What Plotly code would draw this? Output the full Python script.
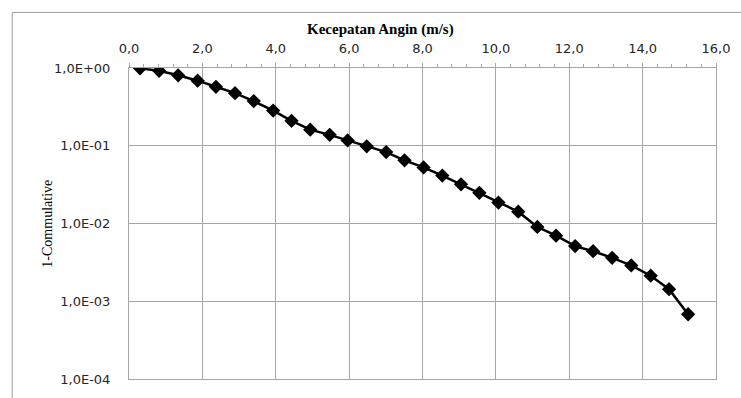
import plotly.graph_objects as go

# Wind speed (m/s) and 1 - cumulative probability
kecepatan = [0.30, 0.82, 1.34, 1.87, 2.37, 2.89, 3.40, 3.93, 4.43, 4.94,
             5.47, 5.96, 6.48, 7.01, 7.51, 8.03, 8.54, 9.05, 9.55, 10.07,
             10.61, 11.13, 11.64, 12.16, 12.65, 13.17, 13.69, 14.22, 14.72, 15.24]
satu_min_kumulatif = [0.99, 0.92, 0.805, 0.687, 0.573, 0.475, 0.375, 0.283, 0.209, 0.161,
                      0.138, 0.117, 0.0984, 0.0828, 0.065, 0.0526, 0.0414, 0.0319, 0.0248, 0.0186,
                      0.0142, 0.00904, 0.00697, 0.00512, 0.00440, 0.00362, 0.00289, 0.00213, 0.00143, 0.00068]

x_tickvals = [0, 2, 4, 6, 8, 10, 12, 14, 16]
x_ticktext = ["0,0", "2,0", "4,0", "6,0", "8,0", "10,0", "12,0", "14,0", "16,0"]
y_tickvals = [1, 0.1, 0.01, 0.001, 0.0001]
y_ticktext = ["1,0E+00", "1,0E-01", "1,0E-02", "1,0E-03", "1,0E-04"]

grid = "#a6a6a6"

fig = go.Figure()
fig.add_trace(go.Scatter(
    x=kecepatan, y=satu_min_kumulatif, mode="lines+markers",
    line=dict(color="black", width=2.5),
    marker=dict(symbol="diamond", size=11, color="black"),
    showlegend=False,
))

fig.update_layout(
    width=741, height=398,
    margin=dict(l=129, r=24, t=68, b=11),
    paper_bgcolor="white", plot_bgcolor="white",
    font=dict(family="DejaVu Sans", size=13, color="#262626"),
)
fig.update_xaxes(
    side="top", range=[0, 16], tickmode="array", tickvals=x_tickvals, ticktext=x_ticktext,
    showgrid=True, gridcolor=grid, gridwidth=1,
    showline=True, linecolor=grid, linewidth=1, mirror=True,
    ticks="outside", ticklen=4, tickcolor=grid,
    minor=dict(dtick=0.4, ticks="outside", ticklen=3, tickcolor=grid, showgrid=False),
    tickfont_family="DejaVu Sans", tickfont_size=13, tickfont_color="#262626",
    ticklabelstandoff=5, zeroline=False,
)
fig.update_yaxes(
    type="log", range=[-4, 0], tickmode="array", tickvals=y_tickvals, ticktext=y_ticktext,
    showgrid=True, gridcolor=grid, gridwidth=1,
    showline=True, linecolor=grid, linewidth=1, mirror=True,
    ticks="", tickfont_family="DejaVu Sans", tickfont_size=13, tickfont_color="#262626",
    ticklabelstandoff=15, zeroline=False,
)
fig.update_layout(
    annotations=[
        dict(text="<b>Kecepatan Angin (m/s)</b>", xref="paper", yref="paper",
             x=(381 - 129) / 588, y=(387 - 28) / 319, xanchor="center", yanchor="middle",
             showarrow=False, font=dict(family="Liberation Serif", size=15, color="black")),
        dict(text="1-Commulative", xref="paper", yref="paper",
             x=(47 - 129) / 588, y=0.5, xanchor="center", yanchor="middle", textangle=-90,
             showarrow=False, font=dict(family="Liberation Serif", size=14, color="black")),
    ],
    shapes=[
        dict(type="rect", xref="paper", yref="paper",
             x0=(12 - 129) / 588, x1=1.2, y0=-0.2, y1=(387 - 11) / 319,
             line=dict(color="#a0a0a0", width=1), fillcolor="rgba(0,0,0,0)", layer="below"),
    ],
)

fig.write_html("out.html")
